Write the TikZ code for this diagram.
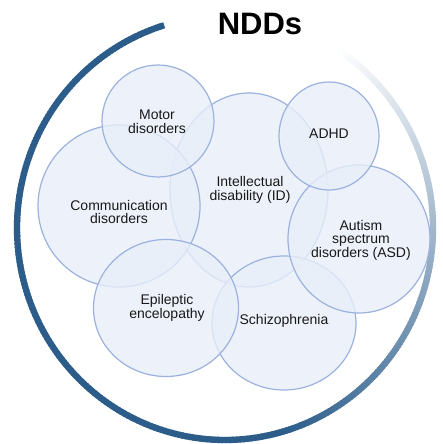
\documentclass[tikz,border=0pt]{standalone}
\usepackage{fontspec}
\setmainfont{Liberation Sans}
\usetikzlibrary{shapes.geometric}
\definecolor{ringblue}{RGB}{43,92,138}
\definecolor{bubblefill}{RGB}{232,238,249}
\definecolor{bubbleline}{RGB}{156,178,222}
\definecolor{labeltext}{RGB}{25,25,25}
\begin{document}
\begin{tikzpicture}[x=1pt,y=1pt,
  bubble/.style={ellipse,draw=bubbleline,line width=1.2pt,fill=bubblefill,
    fill opacity=0.8,inner sep=0pt},
  lbl/.style={align=center,text=labeltext,font=\fontsize{14}{13.6}\selectfont,inner sep=0pt}]
\useasboundingbox (0,0) rectangle (443,444);

% outer ring: solid on the left, fading out towards the upper right
\foreach \a in {107,...,416}{
  \pgfmathsetmacro\p{min(100,(417-\a)/132*100)}
  \draw[line width=6.3pt,color=ringblue!\p!white]
    ({225+208*cos(\a)},{216+212*sin(\a)})
    arc[start angle=\a,end angle=\a+1.4,x radius=208pt,y radius=212pt];
}

% title
\node[font=\fontsize{31}{31}\selectfont\bfseries,anchor=base,inner sep=0pt] (title) at (260,409) {NDDs};

% overlapping bubbles
\node[bubble,minimum width=158pt,minimum height=194pt] (id)    at (249,254) {};
\node[bubble,minimum width=162pt,minimum height=162pt] (comm)  at (119,238) {};
\node[bubble,minimum width=112pt,minimum height=112pt] (motor) at (158,323) {};
\node[bubble,minimum width=144pt,minimum height=134pt] (schiz) at (284,121) {};
\node[bubble,minimum width=142pt,minimum height=148pt] (asd)   at (359,205) {};
\node[bubble,minimum width=100pt,minimum height=108pt] (adhd)  at (329,308) {};
\node[bubble,minimum width=145pt,minimum height=137pt] (epi)   at (166,136) {};

% bubble labels
\node[lbl] (idtxt)    at (250,254) {Intellectual\\disability (ID)};
\node[lbl] (commtxt)  at (119,232) {Communication\\disorders};
\node[lbl] (motortxt) at (157,322) {Motor\\disorders};
\node[lbl] (schiztxt) at (284,123) {Schizophrenia};
\node[lbl] (asdtxt)   at (361,204) {Autism\\spectrum\\disorders (ASD)};
\node[lbl] (adhdtxt)  at (329,310) {ADHD};
\node[lbl] (epitxt)   at (167,136) {Epileptic\\encelopathy};
\end{tikzpicture}
\end{document}
